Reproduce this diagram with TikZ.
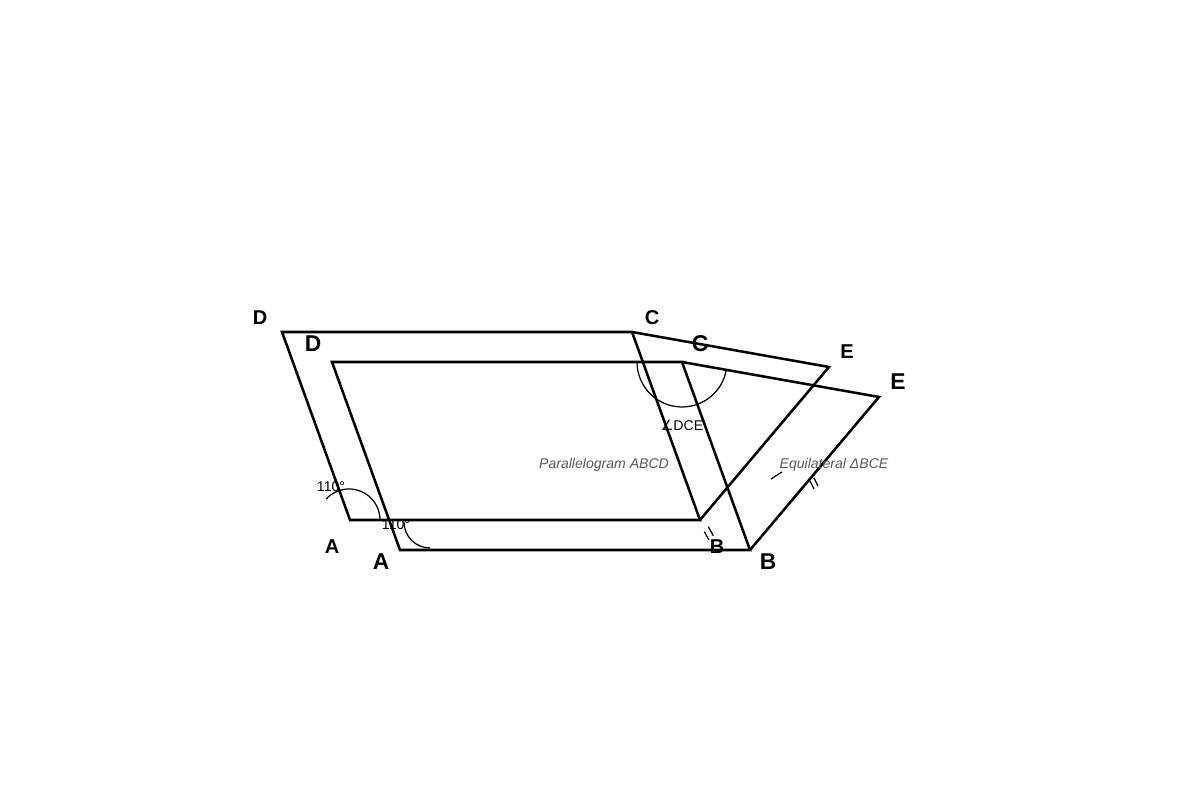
\documentclass[tikz,border=0pt]{standalone}
\usepackage{fontspec}
\setmainfont{Liberation Sans}
\newfontfamily\symfont{DejaVu Sans}
\usetikzlibrary{positioning,calc}
\tikzset{
  edge/.style={line width=0.72pt,line join=miter},
  thin arc/.style={line width=0.35pt},
  tick/.style={line width=0.35pt},
  vlabel/.style={font=\bfseries\fontsize{5.7}{6}\selectfont,inner sep=0pt},
  vlabelbig/.style={font=\bfseries\fontsize{6.5}{7}\selectfont,inner sep=0pt},
  anglabel/.style={font=\fontsize{4}{5}\selectfont,inner sep=0pt},
  note/.style={font=\itshape\fontsize{4}{5}\selectfont,text=black!65,inner sep=0pt}
}

\begin{document}
\begin{tikzpicture}[line join=round]
\useasboundingbox (0,0) rectangle (12,8);
% first copy
\coordinate (D1) at (2.82,4.68);
\coordinate (C1) at (6.32,4.68);
\coordinate (A1) at (3.50,2.80);
\coordinate (B1) at (7.00,2.80);
\coordinate (E1) at (8.29,4.33);
% second copy, shifted
\coordinate (D2) at (3.32,4.38);
\coordinate (C2) at (6.82,4.38);
\coordinate (A2) at (4.00,2.50);
\coordinate (B2) at (7.50,2.50);
\coordinate (E2) at (8.79,4.03);
\draw[edge] (D1)--(C1)--(B1)--(A1)--cycle (C1)--(E1)--(B1);
\draw[edge] (D2)--(C2)--(B2)--(A2)--cycle (C2)--(E2)--(B2);
\node[vlabel] (lD1) at (2.60,4.82) {D};
\node[vlabel] (lC1) at (6.52,4.82) {C};
\node[vlabel] (lA1) at (3.32,2.53) {A};
\node[vlabel] (lB1) at (7.17,2.53) {B};
\node[vlabel] (lE1) at (8.47,4.48) {E};
\node[vlabelbig] (lD2) at (3.13,4.56) {D};
\node[vlabelbig] (lC2) at (7.00,4.56) {C};
\node[vlabelbig] (lA2) at (3.81,2.38) {A};
\node[vlabelbig] (lB2) at (7.68,2.38) {B};
\node[vlabelbig] (lE2) at (8.98,4.18) {E};
% angle marks
\draw[thin arc] ($(A1)+(0.30,0)$) arc[start angle=0,end angle=137,radius=0.31];
\draw[thin arc] ($(A2)+(0.04,0.28)$) arc[start angle=180,end angle=270,radius=0.26];
\draw[thin arc] ($(C2)+(-0.45,0)$) arc[start angle=180,end angle=350,radius=0.45];
\node[anglabel] (a1) at (3.31,3.13) {110°};
\node[anglabel] (a2) at (3.96,2.75) {110°};
\node[anglabel] (dce) at (6.82,3.75) {{\symfont ∠}DCE};
% ticks
\draw[tick] (7.043,2.683)--(7.09,2.60) (7.083,2.733)--(7.133,2.643);
\draw[tick] (8.10,3.19)--(8.14,3.11) (8.14,3.22)--(8.18,3.14);
\draw[tick] (7.71,3.21)--(7.82,3.28);
\node[note] (par) at (6.04,3.35) {Parallelogram ABCD};
\node[note] (equi) at (8.34,3.35) {Equilateral ΔBCE};
\end{tikzpicture}
\end{document}
